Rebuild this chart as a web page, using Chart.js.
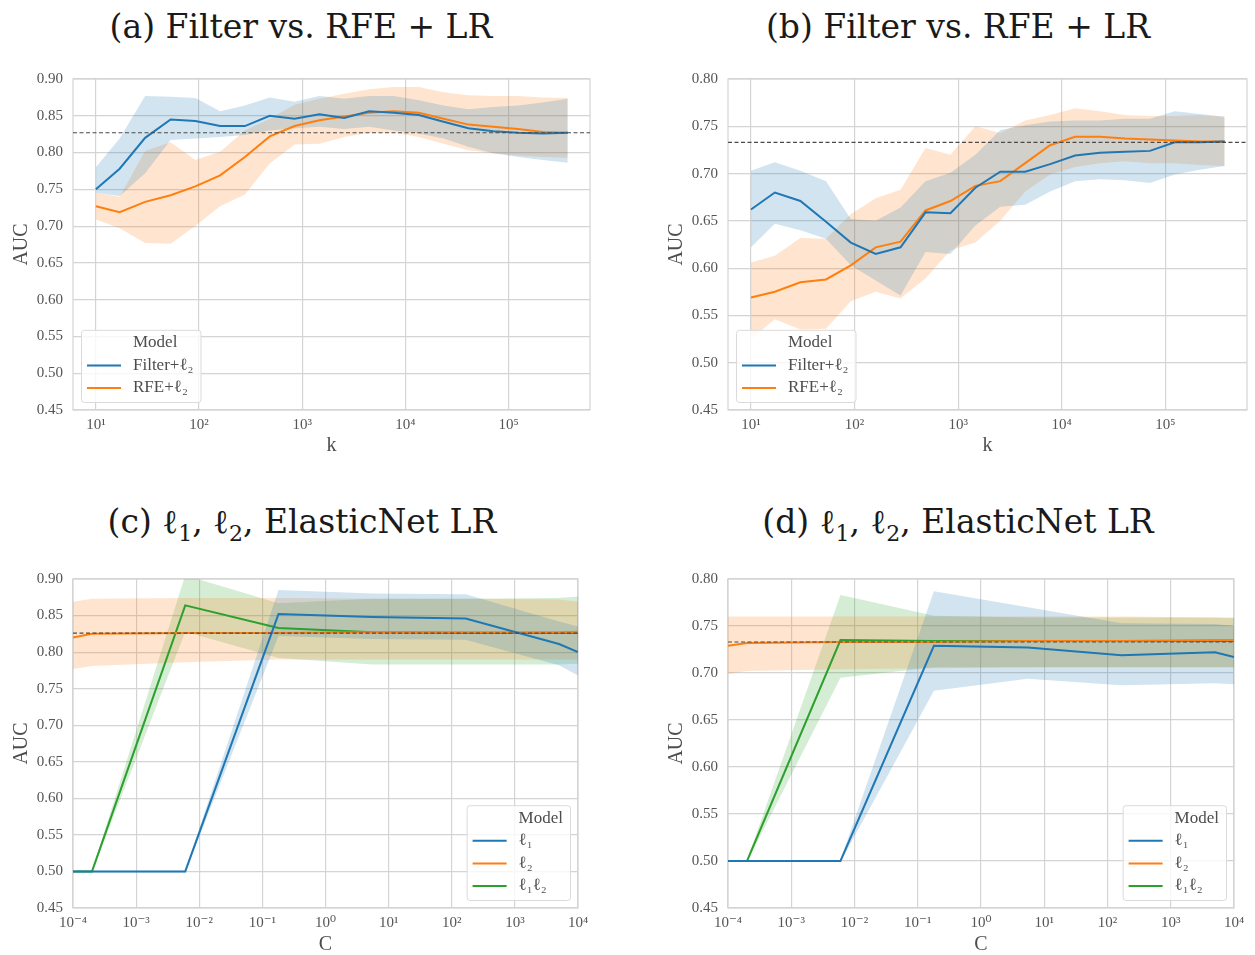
<!DOCTYPE html>
<html>
<head>
<meta charset="utf-8">
<script src="https://cdn.jsdelivr.net/npm/chart.js@4.4.1/dist/chart.umd.min.js"></script>
<style>
  html, body { margin: 0; padding: 0; background: #fff; }
  body { width: 1255px; height: 955px; position: relative; overflow: hidden; }
  .panel { position: absolute; }
  .title { position: absolute; transform: translate(-50%, -50%); white-space: nowrap;
           font-family: 'DejaVu Serif', serif; font-size: 33px; color: #1a1a1a; line-height: 1; }
</style>
</head>
<body>
<div class="title" style="left:301px;top:26px">(a) Filter vs. RFE + LR</div>
<div class="title" style="left:958px;top:26px">(b) Filter vs. RFE + LR</div>
<div class="title" style="left:302px;top:525px">(c) ℓ<sub style="font-size:22px">1</sub>, ℓ<sub style="font-size:22px">2</sub>, ElasticNet LR</div>
<div class="title" style="left:958px;top:525px">(d) ℓ<sub style="font-size:22px">1</sub>, ℓ<sub style="font-size:22px">2</sub>, ElasticNet LR</div>

<div class="panel" style="left:0;top:60px"><canvas id="ca" width="620" height="400"></canvas></div>
<div class="panel" style="left:655px;top:60px"><canvas id="cb" width="600" height="400"></canvas></div>
<div class="panel" style="left:0;top:560px"><canvas id="cc" width="620" height="395"></canvas></div>
<div class="panel" style="left:655px;top:560px"><canvas id="cd" width="600" height="395"></canvas></div>

<script>
// number of selected features (k) and regularisation strengths (C)
const kValues = [10, 17, 30, 53, 92, 160, 278, 484, 843, 1467, 2553, 4443, 7734, 13463, 23434, 40791, 71003, 123593, 215132, 374470];
const cValues = [0.0001, 0.0002, 0.006, 0.18, 5.5, 166, 5000, 10000];

const kTicks = [10, 100, 1000, 10000, 100000];
const kTickLabels = ['10¹', '10²', '10³', '10⁴', '10⁵'];
const cTicks = [1e-4, 1e-3, 1e-2, 1e-1, 1, 10, 100, 1000, 10000];
const cTickLabels = ['10⁻⁴', '10⁻³', '10⁻²', '10⁻¹', '10⁰', '10¹', '10²', '10³', '10⁴'];

// (a) Filter vs RFE
const filterMeanA = [0.750, 0.778, 0.820, 0.845, 0.843, 0.836, 0.836, 0.850, 0.846, 0.852, 0.847, 0.856, 0.854, 0.851, 0.842, 0.833, 0.829, 0.827, 0.826, 0.827];
const filterLowA  = [0.745, 0.741, 0.772, 0.817, 0.819, 0.821, 0.824, 0.830, 0.833, 0.835, 0.832, 0.835, 0.830, 0.826, 0.819, 0.808, 0.799, 0.794, 0.790, 0.786];
const filterHighA = [0.780, 0.819, 0.877, 0.876, 0.874, 0.856, 0.864, 0.875, 0.869, 0.877, 0.873, 0.877, 0.877, 0.871, 0.864, 0.859, 0.862, 0.864, 0.868, 0.873];
const rfeMeanA = [0.727, 0.719, 0.733, 0.742, 0.754, 0.769, 0.794, 0.822, 0.836, 0.844, 0.849, 0.854, 0.856, 0.854, 0.846, 0.838, 0.835, 0.832, 0.828, 0.827];
const rfeLowA  = [0.709, 0.697, 0.677, 0.676, 0.700, 0.727, 0.743, 0.785, 0.811, 0.812, 0.821, 0.827, 0.827, 0.821, 0.812, 0.803, 0.799, 0.796, 0.794, 0.793];
const rfeHighA = [0.745, 0.740, 0.802, 0.814, 0.790, 0.801, 0.830, 0.846, 0.865, 0.873, 0.880, 0.886, 0.889, 0.889, 0.882, 0.878, 0.877, 0.877, 0.875, 0.874];
const baselineA = 0.827;

// (b) Filter vs RFE
const filterMeanB = [0.662, 0.680, 0.671, 0.649, 0.627, 0.615, 0.622, 0.659, 0.658, 0.685, 0.702, 0.702, 0.710, 0.719, 0.722, 0.723, 0.724, 0.733, 0.733, 0.734];
const filterLowB  = [0.622, 0.647, 0.640, 0.631, 0.603, 0.587, 0.571, 0.617, 0.615, 0.645, 0.665, 0.667, 0.681, 0.692, 0.694, 0.693, 0.690, 0.699, 0.704, 0.708];
const filterHighB = [0.703, 0.712, 0.703, 0.692, 0.652, 0.650, 0.664, 0.692, 0.701, 0.720, 0.746, 0.751, 0.755, 0.756, 0.756, 0.758, 0.758, 0.766, 0.763, 0.760];
const rfeMeanB = [0.569, 0.575, 0.585, 0.588, 0.603, 0.622, 0.628, 0.661, 0.671, 0.687, 0.692, 0.711, 0.730, 0.739, 0.739, 0.737, 0.736, 0.735, 0.734, 0.734];
const rfeLowB  = [0.525, 0.546, 0.535, 0.536, 0.565, 0.575, 0.568, 0.589, 0.619, 0.627, 0.650, 0.681, 0.699, 0.707, 0.711, 0.713, 0.711, 0.711, 0.709, 0.708];
const rfeHighB = [0.606, 0.613, 0.632, 0.631, 0.657, 0.674, 0.683, 0.727, 0.720, 0.750, 0.743, 0.756, 0.762, 0.769, 0.766, 0.762, 0.761, 0.761, 0.762, 0.760];
const baselineB = 0.733;

// (c) l1, l2, ElasticNet
const l1MeanC = [0.500, 0.500, 0.500, 0.852, 0.848, 0.846, 0.811, 0.800];
const l1LowC  = [0.499, 0.499, 0.499, 0.822, 0.818, 0.817, 0.782, 0.768];
const l1HighC = [0.501, 0.501, 0.501, 0.885, 0.880, 0.879, 0.842, 0.835];
const l2MeanC = [0.820, 0.825, 0.826, 0.826, 0.827, 0.827, 0.827, 0.828];
const l2LowC  = [0.777, 0.781, 0.786, 0.790, 0.790, 0.790, 0.790, 0.790];
const l2HighC = [0.869, 0.873, 0.874, 0.874, 0.873, 0.873, 0.872, 0.869];
const enMeanC = [0.500, 0.500, 0.864, 0.833, 0.827, 0.826, 0.826, 0.826];
const enLowC  = [0.499, 0.499, 0.828, 0.792, 0.783, 0.783, 0.783, 0.784];
const enHighC = [0.501, 0.501, 0.905, 0.867, 0.873, 0.873, 0.874, 0.876];
const baselineC = 0.826;

// (d) l1, l2, ElasticNet
const l1MeanD = [0.500, 0.500, 0.500, 0.729, 0.727, 0.719, 0.722, 0.717];
const l1LowD  = [0.499, 0.499, 0.499, 0.681, 0.694, 0.687, 0.689, 0.688];
const l1HighD = [0.501, 0.501, 0.501, 0.787, 0.770, 0.753, 0.752, 0.750];
const l2MeanD = [0.729, 0.732, 0.733, 0.733, 0.734, 0.734, 0.735, 0.735];
const l2LowD  = [0.699, 0.702, 0.704, 0.705, 0.706, 0.706, 0.706, 0.706];
const l2HighD = [0.760, 0.760, 0.760, 0.760, 0.760, 0.760, 0.759, 0.758];
const enMeanD = [0.500, 0.500, 0.735, 0.734, 0.734, 0.734, 0.734, 0.734];
const enLowD  = [0.499, 0.499, 0.695, 0.706, 0.706, 0.706, 0.706, 0.706];
const enHighD = [0.501, 0.501, 0.783, 0.761, 0.759, 0.759, 0.759, 0.759];
const baselineD = 0.733;

const BLUE = '#1f77b4', ORANGE = '#ff7f0e', GREEN = '#2ca02c';
const GRID = '#d4d4d4', TICK = '#555555', LABEL = '#4d4d4d';

Chart.defaults.font.family = "'Liberation Serif', 'DejaVu Serif', serif";

function fade(hex, a) {
  const n = parseInt(hex.slice(1), 16);
  return `rgba(${n >> 16},${(n >> 8) & 255},${n & 255},${a})`;
}

// three datasets per model: upper edge (filled to lower), lower edge, mean line
function series(label, color, xs, mean, low, high) {
  const pts = arr => arr.map((y, i) => ({x: xs[i], y}));
  return [
    {data: pts(high), borderWidth: 0, pointRadius: 0, fill: '+1', backgroundColor: fade(color, 0.2), order: 2},
    {data: pts(low), borderWidth: 0, pointRadius: 0, fill: false, order: 2},
    {data: pts(mean), borderColor: color, borderWidth: 2, pointRadius: 0, fill: false, order: 1, legendLabel: label}
  ];
}

function baseline(value, xMin, xMax) {
  return {data: [{x: xMin, y: value}, {x: xMax, y: value}], borderColor: '#4a4a4a', borderWidth: 1.1,
          borderDash: [4, 2.5], pointRadius: 0, fill: false, order: 0};
}

// frame around the plot area
const frame = {
  id: 'frame',
  beforeDatasetsDraw(chart) {
    const {ctx, chartArea: a} = chart;
    ctx.save();
    ctx.strokeStyle = GRID;
    ctx.lineWidth = 1.2;
    ctx.strokeRect(a.left, a.top, a.right - a.left, a.bottom - a.top);
    ctx.restore();
  }
};

// seaborn style legend: "Model" header row, then one row per line
const boxLegend = {
  id: 'boxLegend',
  afterDraw(chart, args, opts) {
    const items = chart.data.datasets.filter(d => d.legendLabel);
    const {ctx, chartArea: area} = chart;
    ctx.save();
    ctx.font = "17px 'Liberation Serif', 'DejaVu Serif', serif";
    const rows = [opts.title].concat(items.map(d => d.legendLabel));
    const textW = Math.max(...rows.map(t => ctx.measureText(t).width));
    const rowH = 22.6;
    const w = 52 + textW + 7, h = 13 + (rows.length - 1) * rowH + 14;
    const x = opts.side === 'right' ? area.right - 8 - w : area.left + 8;
    const y = area.bottom - 8 - h;
    ctx.beginPath();
    ctx.roundRect(x + 0.5, y + 0.5, w, h, 3);
    ctx.fillStyle = 'rgba(255,255,255,0.8)';
    ctx.fill();
    ctx.strokeStyle = '#dadada';
    ctx.lineWidth = 1;
    ctx.stroke();
    ctx.textBaseline = 'middle';
    rows.forEach((t, i) => {
      const ry = y + 13 + i * rowH;
      ctx.fillStyle = LABEL;
      ctx.fillText(t, x + 52, ry);
      if (i > 0) {
        ctx.strokeStyle = items[i - 1].borderColor;
        ctx.lineWidth = 2;
        ctx.beginPath();
        ctx.moveTo(x + 6, ry);
        ctx.lineTo(x + 40, ry);
        ctx.stroke();
      }
    });
    ctx.restore();
  }
};

function makeChart(id, cfg) {
  return new Chart(document.getElementById(id), {
    type: 'line',
    data: {datasets: cfg.datasets},
    plugins: [frame, boxLegend],
    options: {
      responsive: false,
      animation: false,
      layout: {padding: {top: 17, right: cfg.padRight, left: 0, bottom: 0}},
      elements: {line: {tension: 0}},
      plugins: {
        legend: {display: false},
        tooltip: {enabled: false},
        boxLegend: {title: 'Model', side: cfg.legendSide}
      },
      scales: {
        x: {
          type: 'logarithmic',
          min: cfg.xMin, max: cfg.xMax,
          afterBuildTicks: s => { s.ticks = cfg.ticks.map(v => ({value: v})); },
          afterFit: s => { s.height = cfg.xHeight; },
          grid: {color: GRID, lineWidth: 1.2, drawTicks: false},
          border: {display: false},
          ticks: {padding: 6, color: TICK, font: {size: 15}, maxRotation: 0, autoSkip: false,
                  callback: (v, i) => cfg.tickLabels[i]},
          title: {display: true, text: cfg.xTitle, color: LABEL, font: {size: 20, lineHeight: 1},
                  padding: {top: 0, bottom: cfg.xTitlePad}}
        },
        y: {
          min: 0.45, max: cfg.yMax,
          afterFit: s => { s.width = 73; },
          grid: {color: GRID, lineWidth: 1.2, drawTicks: false},
          border: {display: false},
          ticks: {stepSize: 0.05, padding: 10, color: TICK, font: {size: 15}, callback: v => v.toFixed(2)},
          title: {display: true, text: 'AUC', color: LABEL, font: {size: 20, lineHeight: 1},
                  padding: {top: 12, bottom: 0}}
        }
      }
    }
  });
}

const kMin = 6, kMax = 615000;
const cMin = 1e-4, cMax = 1e4;

makeChart('ca', {
  datasets: [
    ...series('Filter+ℓ₂', BLUE, kValues, filterMeanA, filterLowA, filterHighA),
    ...series('RFE+ℓ₂', ORANGE, kValues, rfeMeanA, rfeLowA, rfeHighA),
    baseline(baselineA, kMin, kMax)
  ],
  xMin: kMin, xMax: kMax, ticks: kTicks, tickLabels: kTickLabels, xTitle: 'k',
  yMax: 0.90, padRight: 30, xHeight: 50, xTitlePad: 4, legendSide: 'left'
});

makeChart('cb', {
  datasets: [
    ...series('Filter+ℓ₂', BLUE, kValues, filterMeanB, filterLowB, filterHighB),
    ...series('RFE+ℓ₂', ORANGE, kValues, rfeMeanB, rfeLowB, rfeHighB),
    baseline(baselineB, kMin, kMax)
  ],
  xMin: kMin, xMax: kMax, ticks: kTicks, tickLabels: kTickLabels, xTitle: 'k',
  yMax: 0.80, padRight: 8, xHeight: 50, xTitlePad: 4, legendSide: 'left'
});

makeChart('cc', {
  datasets: [
    ...series('ℓ₁', BLUE, cValues, l1MeanC, l1LowC, l1HighC),
    ...series('ℓ₂', ORANGE, cValues, l2MeanC, l2LowC, l2HighC),
    ...series('ℓ₁ℓ₂', GREEN, cValues, enMeanC, enLowC, enHighC),
    baseline(baselineC, cMin, cMax)
  ],
  xMin: cMin, xMax: cMax, ticks: cTicks, tickLabels: cTickLabels, xTitle: 'C',
  yMax: 0.90, padRight: 42, xHeight: 47, xTitlePad: 0, legendSide: 'right'
});

makeChart('cd', {
  datasets: [
    ...series('ℓ₁', BLUE, cValues, l1MeanD, l1LowD, l1HighD),
    ...series('ℓ₂', ORANGE, cValues, l2MeanD, l2LowD, l2HighD),
    ...series('ℓ₁ℓ₂', GREEN, cValues, enMeanD, enLowD, enHighD),
    baseline(baselineD, cMin, cMax)
  ],
  xMin: cMin, xMax: cMax, ticks: cTicks, tickLabels: cTickLabels, xTitle: 'C',
  yMax: 0.80, padRight: 21, xHeight: 47, xTitlePad: 0, legendSide: 'right'
});
</script>
</body>
</html>
